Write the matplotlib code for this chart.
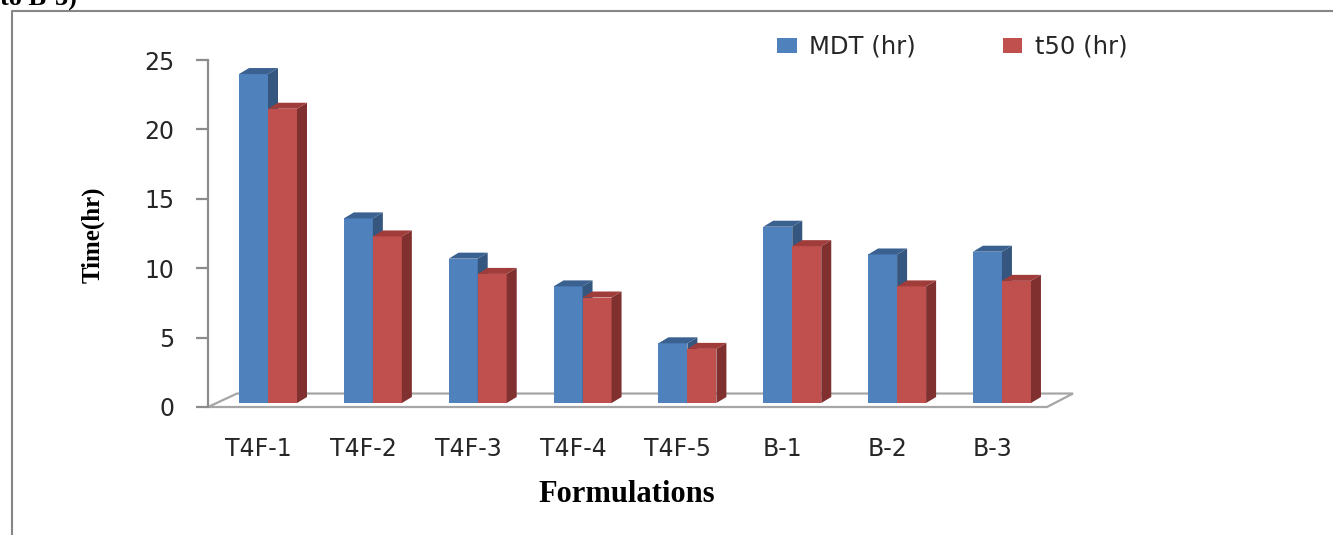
import matplotlib
matplotlib.use("Agg")
import matplotlib.pyplot as plt
from matplotlib.patches import Polygon, Patch
from matplotlib.lines import Line2D

# release times per formulation
formulations = ["T4F-1", "T4F-2", "T4F-3", "T4F-4", "T4F-5", "B-1", "B-2", "B-3"]
mdt_hr = [23.7, 13.3, 10.4, 8.4, 4.3, 12.7, 10.7, 10.9]
t50_hr = [21.2, 12.0, 9.3, 7.6, 3.9, 11.3, 8.4, 8.8]
yticks = [0, 5, 10, 15, 20, 25]

W, H = 1333, 535
fig = plt.figure(figsize=(W / 100, H / 100), dpi=100)

# axes box in pixels, then limits so one category = 104.85 px, one hour = 13.88 px
px_l, px_r, px_top, px_bot = 150, 1110, 40, 420
x0_px, x_step = 268, 104.85
y0_px, y_step = 407, 13.88
ax = fig.add_axes([px_l / W, 1 - px_bot / H, (px_r - px_l) / W, (px_bot - px_top) / H])
ax.set_xlim((px_l - x0_px) / x_step, (px_r - x0_px) / x_step)
ax.set_ylim((y0_px - px_bot) / y_step, (y0_px - px_top) / y_step)
for s in ["top", "right", "bottom"]:
    ax.spines[s].set_visible(False)

# 3d look: depth offset of bar faces and floor
dx, dy = 10 / x_step, 6 / y_step
base = 4 / y_step
bw = 29 / x_step

# floor parallelogram
fl, fr = -0.572, 7.430
ax.add_patch(Polygon([(fl, 0), (fl + 0.276, 0.97), (fr + 0.248, 0.97), (fr, 0)],
                     closed=True, facecolor="white", edgecolor="#A6A6A6", lw=1.6, zorder=1))

def bar3d(xs, vals, front, side, top, z):
    bars = ax.bar(xs, vals, width=bw, bottom=base, align="edge", color=front,
                  lw=0, zorder=z)
    for b in bars:
        x1 = b.get_x(); x2 = x1 + b.get_width()
        y1 = b.get_y(); y2 = y1 + b.get_height()
        ax.add_patch(Polygon([(x2, y1), (x2 + dx, y1 + dy), (x2 + dx, y2 + dy), (x2, y2)],
                             facecolor=side, lw=0, zorder=z))
        ax.add_patch(Polygon([(x1, y2), (x1 + dx, y2 + dy), (x2 + dx, y2 + dy), (x2, y2)],
                             facecolor=top, lw=0, zorder=z))

idx = range(len(formulations))
bar3d([i - bw for i in idx], mdt_hr, "#4F81BD", "#35577F", "#3B6191", 2)
bar3d([i for i in idx], t50_hr, "#C0504D", "#7F302F", "#A03C3A", 3)

# value axis on the left wall
ax.spines["left"].set_position(("data", fl))
ax.spines["left"].set_bounds(0, 25)
ax.spines["left"].set_color("#8C8C8C")
ax.spines["left"].set_linewidth(1.6)
ax.set_yticks(yticks)
ax.set_yticklabels([str(t) for t in yticks])
ax.tick_params(axis="y", length=9, width=1.6, color="#8C8C8C", pad=15,
               labelsize=17, labelcolor="#262626")

ax.set_xticks([i - 0.09 for i in idx])
ax.set_xticklabels(formulations)
ax.tick_params(axis="x", length=0, pad=12, labelsize=17, labelcolor="#262626")

ax.set_ylabel("Time(hr)", family="Liberation Serif", fontweight="bold", fontsize=18)
ax.yaxis.set_label_coords((105 - px_l) / (px_r - px_l), (px_bot - 235) / (px_bot - px_top))
ax.set_xlabel("Formulations", family="Liberation Serif", fontweight="bold", fontsize=22)
ax.xaxis.set_label_coords((627 - px_l) / (px_r - px_l), (px_bot - 480) / (px_bot - px_top))

handles = [Patch(facecolor="#4F81BD", label="MDT (hr)"),
           Patch(facecolor="#C0504D", label="t50 (hr)")]
fig.legend(handles=handles, loc="center left", bbox_to_anchor=(765 / W, 1 - 47 / H),
           ncol=2, frameon=False, fontsize=17.5, handlelength=0.8, handleheight=0.6,
           handletextpad=0.5, columnspacing=3.6, borderpad=0, labelcolor="#262626")

# chart frame (left and top edges visible)
fig.add_artist(Line2D([12 / W, 12 / W, 1.0], [0.0, 1 - 11 / H, 1 - 11 / H],
                      color="#868686", lw=1.5))
fig.text(0.0, 1 - 6 / H, "to B-3)", family="Liberation Serif", fontweight="bold",
         fontsize=19, va="baseline", ha="left")

fig.savefig("out.png", dpi=100)
